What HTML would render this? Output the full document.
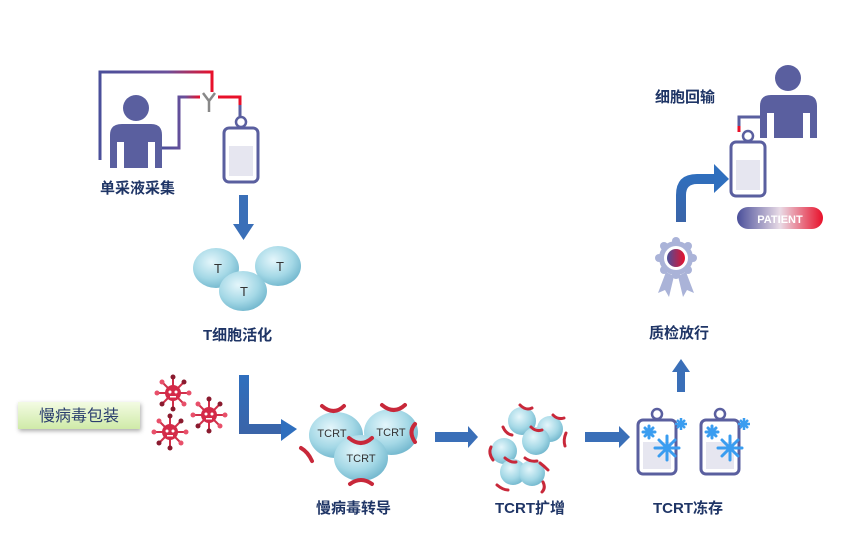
<!DOCTYPE html>
<html><head><meta charset="utf-8"><style>
html,body{margin:0;padding:0;background:#fff;}
svg{display:block}
text{font-family:"Liberation Sans","Noto Sans CJK SC",sans-serif;}
.lb{font-size:15px;font-weight:bold;fill:#1f3566;}
</style></head><body>
<svg width="852" height="541" viewBox="0 0 852 541" xmlns="http://www.w3.org/2000/svg">
<defs>
<radialGradient id="cell" cx="40%" cy="35%" r="70%">
<stop offset="0" stop-color="#e4f6fb"/><stop offset="0.6" stop-color="#a4d8e6"/><stop offset="1" stop-color="#6fb5cc"/>
</radialGradient>
<linearGradient id="tube" x1="0" x2="1"><stop offset="0" stop-color="#4a4f9a"/><stop offset="0.6" stop-color="#6a4f9a"/><stop offset="1" stop-color="#e8102a"/></linearGradient>
<linearGradient id="pill" x1="0" x2="1"><stop offset="0" stop-color="#4a4f9a"/><stop offset="0.5" stop-color="#e9dbe6"/><stop offset="1" stop-color="#e8102a"/></linearGradient>
<linearGradient id="med" x1="0" x2="1"><stop offset="0" stop-color="#4a4f9a"/><stop offset="1" stop-color="#e8102a"/></linearGradient>
<linearGradient id="arr" x1="0" x2="0" y1="0" y2="1"><stop offset="0" stop-color="#2f6fbe"/><stop offset="1" stop-color="#3a64a8"/></linearGradient>
<linearGradient id="green" x1="0" x2="0" y1="0" y2="1"><stop offset="0" stop-color="#f3fbe3"/><stop offset="1" stop-color="#cfeaa8"/></linearGradient>
<g id="virus">
<g stroke="#d0304a" stroke-width="2">
<line x1="0" y1="-16" x2="0" y2="16"/><line x1="-16" y1="0" x2="16" y2="0"/>
<line x1="-11" y1="-11" x2="11" y2="11"/><line x1="-11" y1="11" x2="11" y2="-11"/>
</g>
<circle r="8" fill="#d42a48"/>
<circle cx="0" cy="-16" r="2.5" fill="#8a1a2e"/><circle cx="0" cy="16" r="2.5" fill="#8a1a2e"/>
<circle cx="-16" cy="0" r="2.5" fill="#e8506a"/><circle cx="16" cy="0" r="2.5" fill="#e8506a"/>
<circle cx="-11" cy="-11" r="2.5" fill="#e8506a"/><circle cx="11" cy="11" r="2.5" fill="#e8506a"/>
<circle cx="-11" cy="11" r="2.5" fill="#8a1a2e"/><circle cx="11" cy="-11" r="2.5" fill="#8a1a2e"/>
<circle cx="-3" cy="-1" r="1.5" fill="#fff"/><circle cx="3" cy="-1" r="1.5" fill="#fff"/><rect x="-3" y="3" width="6" height="1.5" fill="#fff"/>
</g>
<g id="bag">
<circle cx="0" cy="-6" r="5" fill="none" stroke="#5a5f9f" stroke-width="2.5"/>
<rect x="-17" y="0" width="34" height="54" rx="5" fill="#fff" stroke="#5a5f9f" stroke-width="3"/>
<rect x="-12" y="18" width="24" height="30" fill="#e6e6f0"/>
</g>
<g id="fbag">
<circle cx="0" cy="-6" r="5" fill="none" stroke="#5a5f9f" stroke-width="2.5"/>
<rect x="-19" y="0" width="38" height="54" rx="5" fill="#fff" stroke="#5a5f9f" stroke-width="3"/>
<rect x="-14" y="22" width="28" height="27" fill="#e6e6f0"/>
<g stroke="#3a9df0" stroke-width="3" stroke-linecap="round">
<path d="M-8 6v12M-14 12h12M-12 8l8 8M-12 16l8-8"/>
<path d="M10 16v24M-2 28h24M2 20l16 16M2 36l16-16"/>
</g>
<g stroke="#3a9df0" stroke-width="2.5"><path d="M24 -2v12M18 4h12M20 0l8 8M20 8l8-8"/></g>
</g>
</defs>

<!-- left person + tubes -->
<path d="M100 160 V72 H212 V92" fill="none" stroke="url(#tube)" stroke-width="3"/>
<path d="M162 148 H179 V97 H200" fill="none" stroke="url(#tube)" stroke-width="3"/>
<path d="M218 97 H240 V118" fill="none" stroke="#e8102a" stroke-width="3"/>
<path d="M240 105 V118" stroke="#5a5f9f" stroke-width="3"/>
<path d="M203 93 L209 101 L215 93 M209 101 V112" fill="none" stroke="#888" stroke-width="2.5"/>
<circle cx="136" cy="108" r="13" fill="#5a5f9f"/>
<path d="M110 168 V135 Q110 124 122 124 H151 Q162 124 162 135 V168 H155 V142 H148 V168 H124 V142 H117 V168Z" fill="#5a5f9f"/>
<use href="#bag" x="241" y="128"/>
<text class="lb" x="100" y="193">单采液采集</text>

<!-- down arrow -->
<rect x="239" y="195" width="9" height="30" fill="#3a6fb8"/>
<path d="M233 224 H254 L243.5 240Z" fill="#3a6fb8"/>

<!-- T cells -->
<ellipse cx="216" cy="268" rx="23" ry="20" fill="url(#cell)"/>
<ellipse cx="278" cy="266" rx="23" ry="20" fill="url(#cell)"/>
<ellipse cx="243" cy="291" rx="24" ry="20" fill="url(#cell)"/>
<g font-size="13" fill="#333" text-anchor="middle"><text x="218" y="273">T</text><text x="280" y="271">T</text><text x="244" y="296">T</text></g>
<text class="lb" x="203" y="340">T细胞活化</text>

<!-- lentivirus -->
<rect x="18" y="402" width="122" height="27" fill="url(#green)" style="filter:drop-shadow(1px 2px 2px #aaa)"/>
<text x="79" y="421" text-anchor="middle" font-size="16" fill="#2a3e6e">慢病毒包装</text>
<use href="#virus" x="173" y="393"/>
<use href="#virus" x="209" y="415"/>
<use href="#virus" x="170" y="432"/>

<!-- L arrow -->
<path d="M239 375 H249 V424 H282 V434 H239Z" fill="url(#arr)"/>
<path d="M281 419 L297 429 L281 441Z" fill="#2f6fbe"/>

<!-- transduced cells -->
<g>
<ellipse cx="336" cy="435" rx="27" ry="23" fill="url(#cell)"/>
<ellipse cx="391" cy="432" rx="27" ry="23" fill="url(#cell)"/>
<ellipse cx="361" cy="458" rx="27" ry="23" fill="url(#cell)"/>
<g font-size="11" fill="#333" text-anchor="middle"><text x="332" y="437">TCRT</text><text x="391" y="436">TCRT</text><text x="361" y="462">TCRT</text></g>
<g fill="none" stroke="#c8283a" stroke-width="4" stroke-linecap="round">
<path d="M322 406 Q334 416 344 406"/><path d="M382 405 Q394 415 405 405"/><path d="M349 438 Q361 448 372 438"/>
<path d="M301 448 Q308 452 312 461"/><path d="M415 424 Q408 432 415 442"/><path d="M350 484 Q361 476 372 484"/>
</g>
</g>
<text class="lb" x="316" y="513">慢病毒转导</text>

<!-- arrow -->
<rect x="435" y="432" width="34" height="10" fill="#3a6fb8"/><path d="M468 426 L478 437 L468 448Z" fill="#3a6fb8"/>

<!-- expansion -->
<g>
<circle cx="522" cy="421" r="14" fill="url(#cell)"/>
<circle cx="550" cy="429" r="13" fill="url(#cell)"/>
<circle cx="536" cy="441" r="14" fill="url(#cell)"/>
<circle cx="504" cy="451" r="13" fill="url(#cell)"/>
<circle cx="513" cy="472" r="13" fill="url(#cell)"/>
<circle cx="532" cy="473" r="13" fill="url(#cell)"/>
<g fill="none" stroke="#c8283a" stroke-width="3" stroke-linecap="round">
<path d="M520 405 Q526 411 532 408"/><path d="M553 415 Q558 420 564 418"/><path d="M531 427 Q536 432 542 430"/>
<path d="M503 427 Q506 434 512 435"/><path d="M566 433 Q563 440 565 446"/><path d="M491 447 Q488 453 493 460"/>
<path d="M505 458 Q511 463 516 462"/><path d="M525 458 Q530 462 537 461"/><path d="M540 463 Q544 466 548 470"/>
<path d="M497 485 Q503 490 508 490"/><path d="M543 482 Q546 488 542 492"/>
</g>
</g>
<text class="lb" x="495" y="513">TCRT扩增</text>

<!-- arrow -->
<rect x="585" y="432" width="35" height="10" fill="#3a6fb8"/><path d="M619 426 L630 437 L619 448Z" fill="#3a6fb8"/>

<!-- frozen -->
<use href="#fbag" x="657" y="420"/>
<use href="#fbag" x="720" y="420"/>
<text class="lb" x="653" y="513">TCRT冻存</text>

<!-- up arrow -->
<rect x="677" y="370" width="8" height="22" fill="#3a6fb8"/><path d="M672 372 L681 359 L690 372Z" fill="#3a6fb8"/>
<text class="lb" x="649" y="338">质检放行</text>

<!-- award -->
<g transform="translate(676,258)">
<path d="M-10 14 L-18 35 L-11 32 L-7 39 L-2 18Z M10 14 L18 35 L11 32 L7 39 L2 18Z" fill="#aab3d8"/>
<circle r="17" fill="#aab3d8"/>
<g fill="#aab3d8"><circle cx="0" cy="-17" r="4"/><circle cx="12" cy="-12" r="4"/><circle cx="17" cy="0" r="4"/><circle cx="12" cy="12" r="4"/><circle cx="0" cy="17" r="4"/><circle cx="-12" cy="12" r="4"/><circle cx="-17" cy="0" r="4"/><circle cx="-12" cy="-12" r="4"/></g>
<circle r="12" fill="#fff"/>
<circle r="9" fill="url(#med)"/>
</g>

<!-- curved arrow -->
<path d="M676 222 V195 Q676 174 697 174 H716 V184 H697 Q686 184 686 195 V222Z" fill="url(#arr)"/>
<path d="M714 164 L729 179 L714 193Z" fill="#2f6fbe"/>

<!-- right person -->
<circle cx="788" cy="78" r="13" fill="#5a5f9f"/>
<path d="M760 138 V106 Q760 95 771 95 H806 Q817 95 817 106 V138 H810 V113 H803 V138 H774 V113 H767 V138Z" fill="#5a5f9f"/>
<path d="M739 132 V117 H766" fill="none" stroke="#5a5f9f" stroke-width="3"/>
<path d="M739 126 V132" stroke="#e8102a" stroke-width="3"/>
<use href="#bag" x="748" y="142"/>
<rect x="737" y="207" width="86" height="22" rx="11" fill="url(#pill)"/>
<text x="780" y="223" text-anchor="middle" font-size="11" fill="#fff" font-weight="bold">PATIENT</text>
<text class="lb" x="655" y="102">细胞回输</text>
</svg>
</body></html>
